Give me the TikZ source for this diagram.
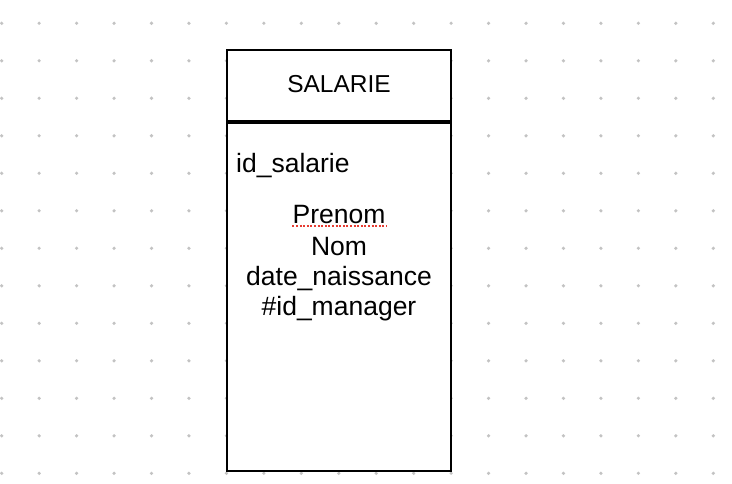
\documentclass[tikz,border=0pt]{standalone}
\usepackage{fontspec}
\setmainfont{Liberation Sans}
\usepackage{tikz}
\usetikzlibrary{positioning}
\usepackage{xcolor}
\definecolor{pointgris}{RGB}{195,195,195}
\definecolor{soulignerouge}{RGB}{230,60,50}

\begin{document}
\begin{tikzpicture} [x=1pt, y=-1pt, attribut/.style={anchor=base, inner sep=0pt, font=\fontsize{26.5}{31}\selectfont}]
	\useasboundingbox (0, 0) rectangle (732, 484);
	\foreach \i in {0,...,19}
		\foreach \j in {0,...,12}
			\fill [pointgris] (1.7+37.45*\i, 23.3+37.5*\j) circle (1.8);
	\node [draw=black, line width=1.6pt, fill=white, minimum width=224pt, minimum height=421pt, inner sep=0pt] (salarie) at (339, 260.5) {};
	\node [anchor=base, inner sep=0pt, font=\fontsize{24.5}{29}\selectfont] (titre) at (339, 93) {SALARIE};
	\coordinate (sepgauche) at (227, 122);
	\coordinate (sepdroite) at (451, 122);
	\draw [black] [line width=4pt] (sepgauche)--(sepdroite);
	\node [attribut, anchor=base west] (idsalarie) at (236, 172.3) {id\_salarie};
	\node [attribut] (prenom) at (339, 224) {Prenom};
	\node [attribut] (nom) at (339, 255) {Nom};
	\node [attribut] (datenaissance) at (339, 285.5) {date\_naissance};
	\node [attribut] (idmanager) at (339, 316) {\#id\_manager};
	\draw [soulignerouge] [line width=2pt, dash pattern=on 2pt off 1.6pt] (prenom.base west)++(0, 2.5)--++(94, 0);
\end{tikzpicture}
\end{document}
